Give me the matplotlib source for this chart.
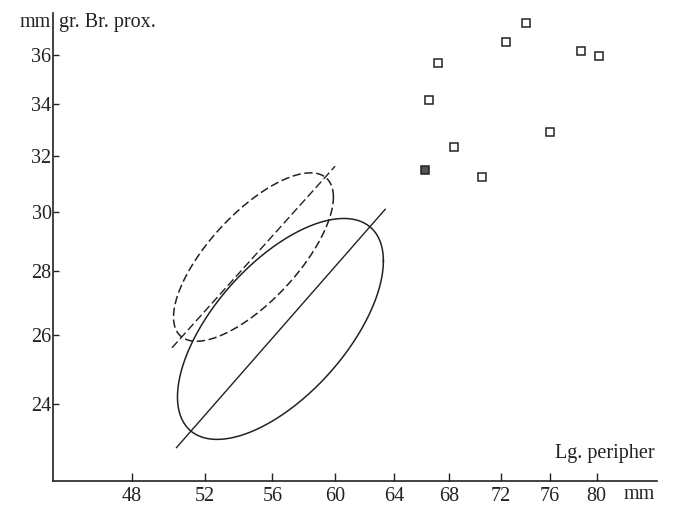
import numpy as np
import matplotlib
matplotlib.use("Agg")
import matplotlib.pyplot as plt
from matplotlib.ticker import NullLocator

plt.rcParams['font.family'] = 'Liberation Serif'
plt.rcParams['lines.scale_dashes'] = False

# measured points (mm)
lg_peripher = [74.0, 72.4, 67.2, 78.6, 80.2, 66.5, 76.0, 68.4, 70.5]
gr_br_prox = [37.35, 36.56, 35.68, 36.17, 35.97, 34.16, 32.93, 32.35, 31.24]
special_x = [66.2]
special_y = [31.51]

# ellipses in log space: centre (mm), spread of ln values, correlation
solid_centre = (56.5, 26.19)
solid_sd = (0.1132, 0.1283)
solid_r = 0.6154
solid_slope = 1.206
solid_xrange = (50.4, 63.4)

dash_centre = (54.85, 28.47)
dash_sd = (0.0879, 0.0978)
dash_r = 0.7126
dash_slope = 1.176
dash_xrange = (50.15, 60.0)

xticks = [48, 52, 56, 60, 64, 68, 72, 76, 80]
yticks = [24, 26, 28, 30, 32, 34, 36]


def ellipse(centre, sd, r, n=400):
    t = np.linspace(0, 2 * np.pi, n)
    lx = np.log(centre[0]) + sd[0] * np.cos(t)
    ly = np.log(centre[1]) + r * sd[1] * np.cos(t) + sd[1] * np.sqrt(1 - r**2) * np.sin(t)
    return np.exp(lx), np.exp(ly)


def axis_line(centre, slope, xrange):
    x = np.array(xrange)
    return x, centre[1] * (x / centre[0]) ** slope


fig = plt.figure(figsize=(6.94, 5.05), dpi=100)
ax = fig.add_axes([53 / 694, 1 - 481 / 505, 604 / 694, 468 / 505])
ax.set_xscale('log')
ax.set_yscale('log')
ax.set_xlim(44.0, 85.48)
ax.set_ylim(21.95, 37.8)

ink = '#222222'

ex, ey = ellipse(solid_centre, solid_sd, solid_r)
ax.plot(ex, ey, color=ink, lw=1.1)
lx, ly = axis_line(solid_centre, solid_slope, solid_xrange)
ax.plot(lx, ly, color=ink, lw=1.0)

ex, ey = ellipse(dash_centre, dash_sd, dash_r)
ax.plot(ex, ey, color=ink, lw=1.1, dashes=(6, 2.6))
lx, ly = axis_line(dash_centre, dash_slope, dash_xrange)
ax.plot(lx, ly, color=ink, lw=1.0, dashes=(6, 2.6))

ax.plot(lg_peripher, gr_br_prox, 's', ms=5.5, mfc='white', mec=ink, mew=1.1)
ax.plot(special_x, special_y, 's', ms=5.5, mfc='#555555', mec=ink, mew=1.1)

for s in ['top', 'right']:
    ax.spines[s].set_visible(False)
for s in ['left', 'bottom']:
    ax.spines[s].set_linewidth(1.2)
    ax.spines[s].set_color(ink)

ax.xaxis.set_minor_locator(NullLocator())
ax.yaxis.set_minor_locator(NullLocator())
ax.set_xticks(xticks)
ax.set_xticklabels([str(v) for v in xticks])
ax.set_yticks(yticks)
ax.set_yticklabels([str(v) for v in yticks])
ax.tick_params(axis='x', direction='in', length=6, width=1, pad=4, labelsize=14.5, colors=ink)
ax.tick_params(axis='y', direction='in', length=4, width=1, pad=1, labelsize=14.5, colors=ink)

ax.text(-0.003, 0.970, 'mm', transform=ax.transAxes, ha='right', va='baseline', fontsize=14.5, color=ink)
ax.text(0.0099, 0.970, 'gr. Br. prox.', transform=ax.transAxes, ha='left', va='baseline', fontsize=14.5, color=ink)
ax.text(0.9967, 0.049, 'Lg. peripher', transform=ax.transAxes, ha='right', va='baseline', fontsize=14.5, color=ink)
ax.text(0.9967, -0.0385, 'mm', transform=ax.transAxes, ha='right', va='baseline', fontsize=14.5, color=ink)

fig.savefig('out.png', dpi=100)
